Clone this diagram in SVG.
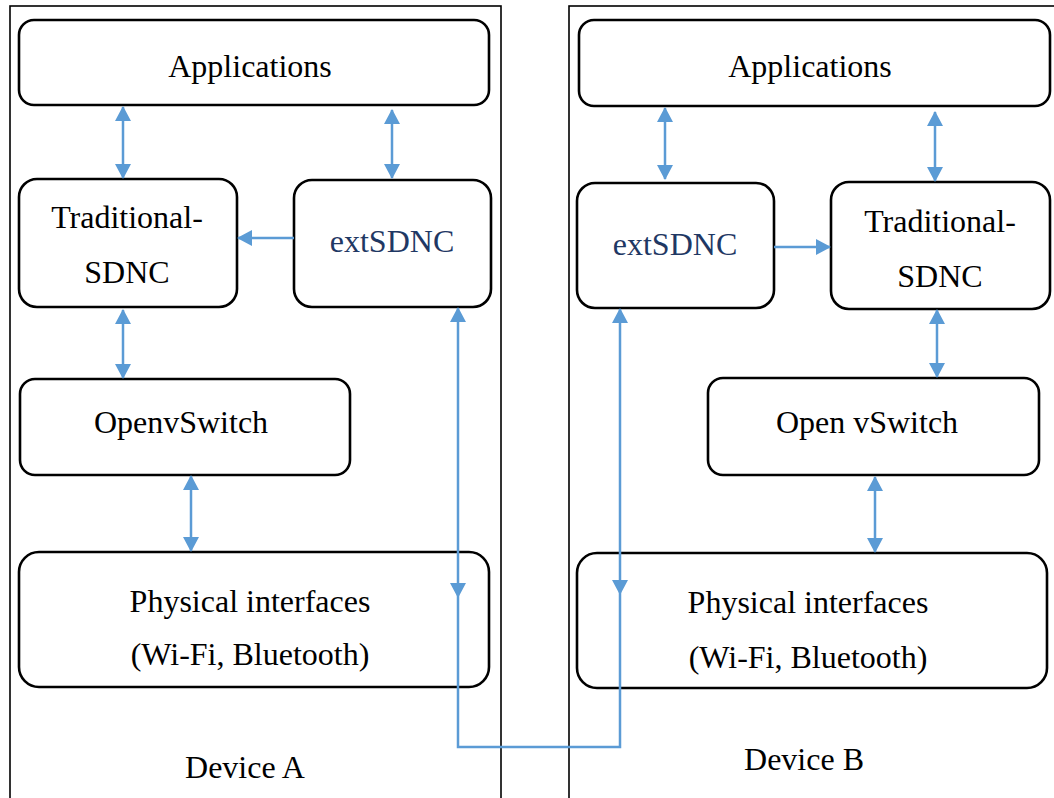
<svg xmlns="http://www.w3.org/2000/svg" width="1054" height="798" viewBox="0 0 1054 798">
<style>
  .dev{fill:none;stroke:#000;stroke-width:1.6}
  .node{fill:#fff;stroke:#000;stroke-width:2.6}
  .ext{fill:#1F3864}
  .c{fill:none;stroke:#5B9BD5;stroke-width:2.5}
  .bi{marker-start:url(#ah);marker-end:url(#ah)}
  .one{marker-end:url(#ah)}
  .head{fill:#5B9BD5}
</style>
<defs>
  <marker id="ah" viewBox="0 0 15 16" refX="14" refY="8" markerWidth="15" markerHeight="16" markerUnits="userSpaceOnUse" orient="auto-start-reverse">
    <path d="M0,0 L15,8 L0,16 z" fill="#5B9BD5"/>
  </marker>
</defs>
<rect width="1054" height="798" fill="#fff"/>
<g font-family="Liberation Serif, serif" font-size="32" text-anchor="middle" fill="#000">
<g id="deviceA">
  <rect class="dev" x="10" y="6" width="491" height="830"/>
  <text x="245" y="778">Device A</text>
</g>
<g id="deviceB">
  <rect class="dev" x="569" y="6" width="520" height="830"/>
  <text x="804" y="770">Device B</text>
</g>
<g id="appsA">
  <rect class="node" x="19" y="20" width="470" height="85" rx="15"/>
  <text x="250" y="77">Applications</text>
</g>
<g id="tradA">
  <rect class="node" x="19" y="179" width="218" height="128" rx="18"/>
  <text x="127" y="228">Traditional-</text>
  <text x="127" y="283">SDNC</text>
</g>
<g id="extA">
  <rect class="node" x="294" y="180" width="197" height="127" rx="18"/>
  <text class="ext" x="392" y="252">extSDNC</text>
</g>
<g id="ovsA">
  <rect class="node" x="20" y="379" width="330" height="96" rx="15"/>
  <text x="181" y="433">OpenvSwitch</text>
</g>
<g id="physA">
  <rect class="node" x="19" y="552" width="470" height="135" rx="20"/>
  <text x="250" y="612">Physical interfaces</text>
  <text x="250" y="665">(Wi-Fi, Bluetooth)</text>
</g>
<g id="appsB">
  <rect class="node" x="579" y="20" width="471" height="86" rx="15"/>
  <text x="810" y="77">Applications</text>
</g>
<g id="extB">
  <rect class="node" x="577" y="183" width="197" height="125" rx="18"/>
  <text class="ext" x="675" y="255">extSDNC</text>
</g>
<g id="tradB">
  <rect class="node" x="831" y="182" width="219" height="127" rx="18"/>
  <text x="940" y="232">Traditional-</text>
  <text x="940" y="287">SDNC</text>
</g>
<g id="ovsB">
  <rect class="node" x="708" y="378" width="331" height="97" rx="15"/>
  <text x="867" y="433">Open vSwitch</text>
</g>
<g id="physB">
  <rect class="node" x="577" y="553" width="470" height="135" rx="20"/>
  <text x="808" y="613">Physical interfaces</text>
  <text x="808" y="668">(Wi-Fi, Bluetooth)</text>
</g>
</g>
<g id="connectors">
  <line class="c bi" x1="123" y1="107" x2="123" y2="178"/>
  <line class="c bi" x1="392" y1="110" x2="392" y2="178"/>
  <line class="c one" x1="294" y1="238" x2="238" y2="238"/>
  <line class="c bi" x1="123" y1="310" x2="123" y2="378"/>
  <line class="c bi" x1="191" y1="476" x2="191" y2="551"/>
  <line class="c bi" x1="665" y1="108" x2="665" y2="179"/>
  <line class="c bi" x1="935" y1="112" x2="935" y2="181"/>
  <line class="c one" x1="774" y1="247" x2="830" y2="247"/>
  <line class="c bi" x1="937" y1="310" x2="937" y2="377"/>
  <line class="c bi" x1="875" y1="477" x2="875" y2="552"/>
  <path class="c bi" d="M458,308 L458,747 L620,747 L620,309"/>
  <polygon class="head" points="450,583 466,583 458,598"/>
  <polygon class="head" points="612,580 628,580 620,595"/>
</g>
</svg>
